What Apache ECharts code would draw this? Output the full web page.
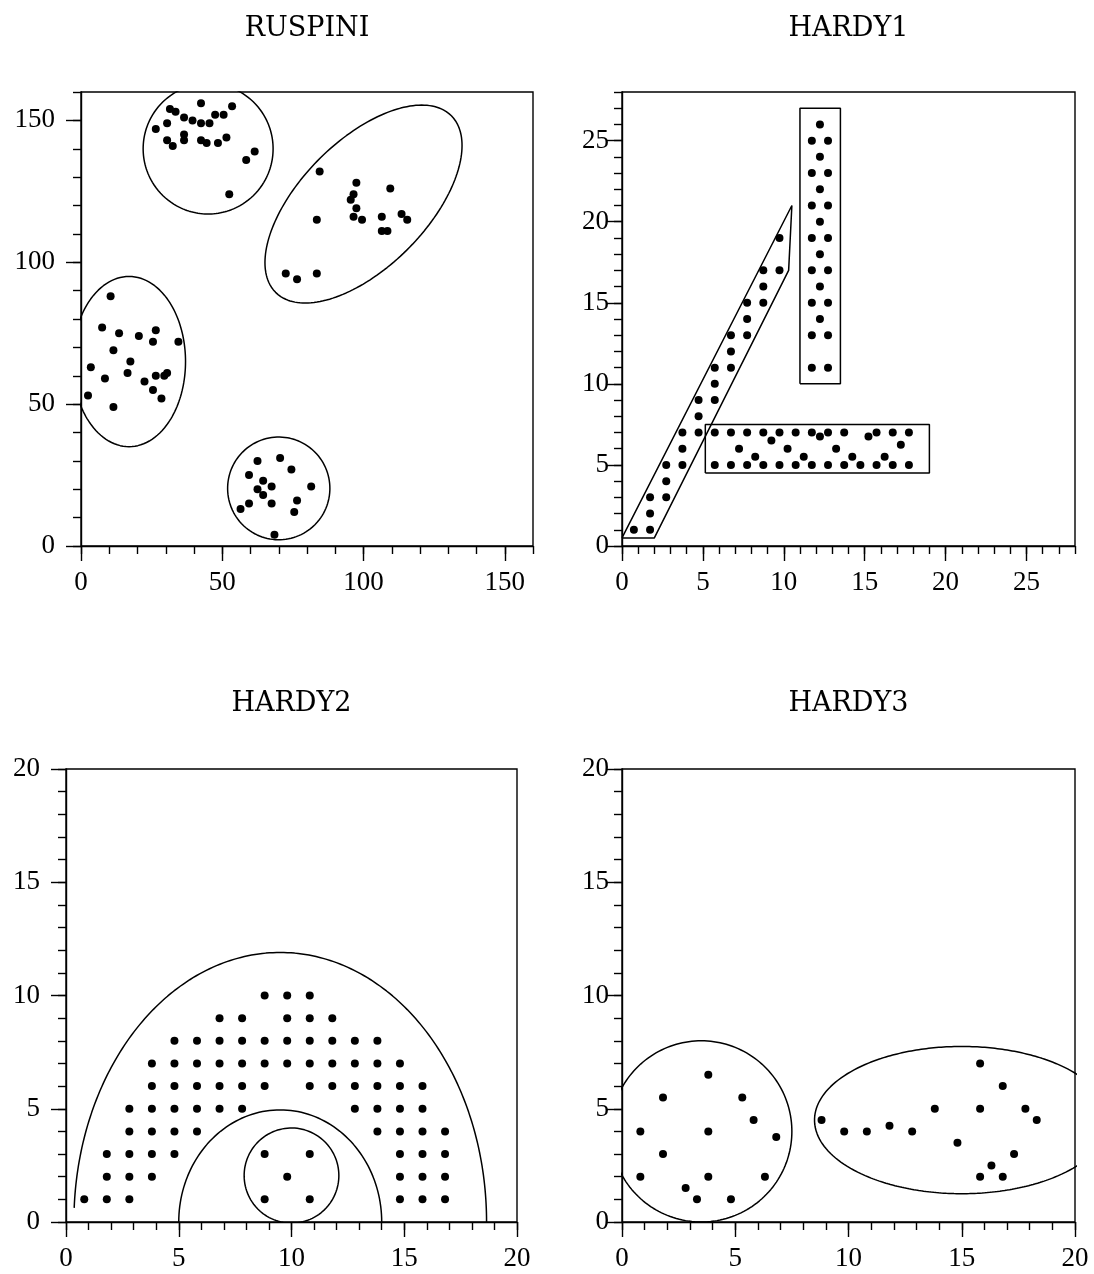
<!DOCTYPE html>
<html>
<head>
<meta charset="utf-8">
<title>RUSPINI / HARDY</title>
<script src="https://cdn.jsdelivr.net/npm/echarts@6/dist/echarts.min.js"></script>
<style>
html, body { margin: 0; padding: 0; background: #fff; }
#chart { width: 1094px; height: 1274px; }
</style>
</head>
<body>
<div id="chart"></div>
<script>
// ---- RUSPINI ----
const ruspiniX = [4, 5, 10, 9, 13, 13, 12, 15, 18, 19, 22, 27, 28, 24, 27, 28, 30, 31, 32, 36,
  28, 32, 35, 33, 38, 41, 38, 38, 32, 34, 44, 44, 44, 46, 47, 49, 50, 53, 52, 55, 54, 60, 63,
  86, 85, 85, 78, 74, 97, 98, 98, 99, 99, 101, 108, 110, 108, 111, 115, 117,
  70, 77, 83, 61, 69, 78, 66, 58, 64, 69, 66, 61, 76, 72, 64]
const ruspiniY = [53, 63, 59, 77, 49, 69, 88, 75, 61, 65, 74, 72, 76, 58, 55, 60, 52, 60, 61, 72,
  147, 149, 153, 154, 151, 150, 145, 143, 143, 141, 156, 149, 143, 142, 149, 152, 142, 144, 152, 155, 124, 136, 139,
  132, 115, 96, 94, 96, 122, 116, 124, 119, 128, 115, 111, 111, 116, 126, 117, 115,
  4, 12, 21, 15, 15, 16, 18, 13, 20, 21, 23, 25, 27, 31, 30]
// ellipses: [cx, cy, rx, ry, rotation deg]
const ruspiniEllipses = [[17, 65, 20, 30, 0], [45, 140, 23, 23, 0], [100, 120.5, 44, 22.3, 45], [70, 20.3, 18.1, 18.1, 0]]

// ---- HARDY1 ----
const hardy1X = [1, 2, 2, 2, 3, 3, 3, 4, 4, 4, 5, 5, 5, 6, 6, 6, 7, 7, 7, 8, 8, 8, 9, 9, 9, 10, 10,
  12.5, 12, 13, 12.5, 12, 13, 12.5, 12, 13, 12.5, 12, 13, 12.5, 12, 13, 12.5, 12, 13, 12.5, 12, 13, 12, 13,
  6, 7, 8, 9, 10, 11, 12, 13, 14, 16, 17, 18,
  12.5, 15.5, 9.5, 17.5, 7.5, 10.5, 13.5, 8.5, 11.5, 14.5, 16.5,
  6, 7, 8, 9, 10, 11, 12, 13, 14, 15, 16, 17, 18]
const hardy1Y = [1, 1, 2, 3, 3, 4, 5, 5, 6, 7, 7, 8, 9, 9, 10, 11, 11, 12, 13, 13, 14, 15, 15, 16, 17, 17, 19,
  26, 25, 25, 24, 23, 23, 22, 21, 21, 20, 19, 19, 18, 17, 17, 16, 15, 15, 14, 13, 13, 11, 11,
  7, 7, 7, 7, 7, 7, 7, 7, 7, 7, 7, 7,
  6.75, 6.75, 6.5, 6.25, 6, 6, 6, 5.5, 5.5, 5.5, 5.5,
  5, 5, 5, 5, 5, 5, 5, 5, 5, 5, 5, 5, 5]
const hardy1Polygons = [
  [[0, 0.5], [2, 0.5], [10.3, 17], [10.5, 21], [0, 0.5]],
  [[11, 10], [13.5, 10], [13.5, 27], [11, 27], [11, 10]],
  [[5.15, 4.5], [19, 4.5], [19, 7.5], [5.15, 7.5], [5.15, 4.5]]
]

// ---- HARDY2 ---- rows of x positions, by y
const hardy2Rows = {
  10: [9, 10, 11],
  9: [7, 8, 10, 11, 12],
  8: [5, 6, 7, 8, 9, 10, 11, 12, 13, 14],
  7: [4, 5, 6, 7, 8, 9, 10, 11, 12, 13, 14, 15],
  6: [4, 5, 6, 7, 8, 9, 11, 12, 13, 14, 15, 16],
  5: [3, 4, 5, 6, 7, 8, 13, 14, 15, 16],
  4: [3, 4, 5, 6, 14, 15, 16, 17],
  3: [2, 3, 4, 5, 9, 11, 15, 16, 17],
  2: [2, 3, 4, 10, 15, 16, 17],
  1: [1, 2, 3, 9, 11, 15, 16, 17]
}
// arcs: [cx, cy, rx, ry, fromDeg, toDeg]
const hardy2Arcs = [[9.5, 0, 9.15, 11.9, 0, 177.6], [9.5, 0, 4.5, 4.95, 0, 180], [10, 2.05, 2.1, 2.1, 0, 360]]

// ---- HARDY3 ----
const hardy3X = [4, 2, 5.5, 6, 1, 4, 7, 2, 1, 4, 6.5, 3, 3.5, 5,
  16, 17, 14, 16, 18, 18.5, 9, 10, 11, 12, 13, 15, 17.5, 16.5, 16, 17]
const hardy3Y = [6.5, 5.5, 5.5, 4.5, 4, 4, 3.75, 3, 2, 2, 2, 1.5, 1, 1,
  7, 6, 5, 5, 5, 4.5, 4.5, 4, 4, 4.25, 4, 3.5, 3, 2.5, 2, 2]
const hardy3Ellipses = [[3.5, 4, 4, 4, 0], [15, 4.5, 6.5, 3.25, 0]]

const titles = ['RUSPINI', 'HARDY1', 'HARDY2', 'HARDY3']
const grids = [
  { left: 81, top: 92, width: 452, height: 454 },
  { left: 622, top: 92, width: 453, height: 454 },
  { left: 66, top: 769, width: 451, height: 453 },
  { left: 622, top: 769, width: 453, height: 453 }
]
// [min, max, major, minor]
const ranges = [[0, 160, 50, 10], [0, 28, 5, 1], [0, 20, 5, 1], [0, 20, 5, 1]]
const yMargins = [26, 13, 26, 13]

const lbl = { fontFamily: 'Liberation Serif', fontSize: 27, color: '#000' }
const blk = { color: '#000', width: 1.4 }

function ellipsePts(cx, cy, rx, ry, rot, from, to) {
  const pts = []
  const r = rot * Math.PI / 180
  for (let d = from; d <= to + 0.001; d += 1) {
    const t = d * Math.PI / 180
    const ex = rx * Math.cos(t), ey = ry * Math.sin(t)
    pts.push([cx + ex * Math.cos(r) - ey * Math.sin(r), cy + ex * Math.sin(r) + ey * Math.cos(r)])
  }
  return pts
}

function zip(xs, ys) {
  return xs.map((x, i) => [x, ys[i]])
}

function axesFor(dim, g) {
  const [min, max, major, minor] = ranges[g]
  const majors = []
  for (let v = min; v <= max; v += major) majors.push(v)
  const pos = dim === 'x' ? 'bottom' : 'left'
  return [{
    type: 'value', gridIndex: g, position: pos, min: min, max: max, interval: minor,
    axisLine: { show: true, onZero: false, lineStyle: blk },
    axisTick: { show: true, length: 8, lineStyle: blk },
    axisLabel: Object.assign({
      margin: dim === 'x' ? 23 : yMargins[g],
      formatter: v => (v % major === 0 ? String(v) : '')
    }, lbl),
    splitLine: { show: false }
  }, {
    type: 'value', gridIndex: g, position: pos, min: min, max: max, interval: major,
    axisLine: { show: false, onZero: false },
    axisTick: { show: true, length: 15, lineStyle: blk, customValues: majors },
    axisLabel: { show: false },
    splitLine: { show: false }
  }]
}

const xAxis = [], yAxis = []
for (let g = 0; g < 4; g++) {
  xAxis.push(...axesFor('x', g))
  yAxis.push(...axesFor('y', g))
}

const series = []
function dots(g, data) {
  series.push({
    type: 'scatter', xAxisIndex: 2 * g, yAxisIndex: 2 * g, data: data,
    symbol: 'circle', symbolSize: 8, symbolOffset: [-4.3, 0],
    itemStyle: { color: '#000', opacity: 1 }, silent: true
  })
}
function outline(g, pts) {
  series.push({
    type: 'line', xAxisIndex: 2 * g, yAxisIndex: 2 * g, data: pts,
    showSymbol: false, symbol: 'none', clip: true, silent: true,
    lineStyle: { color: '#000', width: 1.5 }
  })
}

// RUSPINI
dots(0, zip(ruspiniX, ruspiniY))
ruspiniEllipses.forEach(e => outline(0, ellipsePts(e[0], e[1], e[2], e[3], e[4], 0, 360)))
// HARDY1
dots(1, zip(hardy1X, hardy1Y))
hardy1Polygons.forEach(p => outline(1, p))
// HARDY2
const hardy2Data = []
Object.keys(hardy2Rows).forEach(y => hardy2Rows[y].forEach(x => hardy2Data.push([x, Number(y)])))
dots(2, hardy2Data)
hardy2Arcs.forEach(a => outline(2, ellipsePts(a[0], a[1], a[2], a[3], 0, a[4], a[5])))
// HARDY3
dots(3, zip(hardy3X, hardy3Y))
hardy3Ellipses.forEach(e => outline(3, ellipsePts(e[0], e[1], e[2], e[3], e[4], 0, 360)))

const option = {
  animation: false,
  backgroundColor: '#fff',
  title: titles.map((t, g) => ({
    text: t,
    left: grids[g].left + grids[g].width / 2,
    top: g < 2 ? 15 : 690,
    textAlign: 'center',
    padding: 0,
    textStyle: { fontFamily: 'DejaVu Serif', fontWeight: 'normal', fontSize: 27, color: '#000' }
  })),
  grid: grids.map(r => Object.assign({ show: true, borderColor: '#000', borderWidth: 1.4, containLabel: false }, r)),
  xAxis: xAxis,
  yAxis: yAxis,
  series: series
}

const chart = echarts.init(document.getElementById('chart'), null, { renderer: 'canvas' })
chart.setOption(option)
window.addEventListener('resize', () => chart.resize())
</script>
</body>
</html>
